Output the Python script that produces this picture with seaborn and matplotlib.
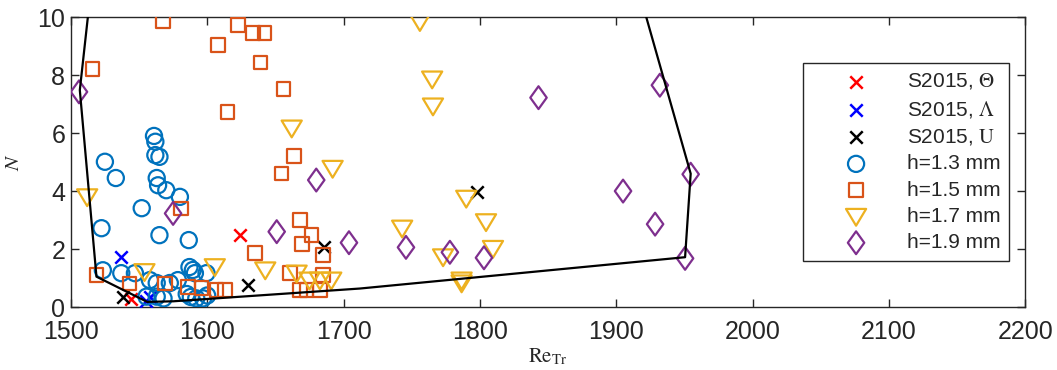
import numpy as np
import matplotlib
matplotlib.use("Agg")
import matplotlib.pyplot as plt
from matplotlib.path import Path
import seaborn as sns

# ── DATA ─────────────────────────────────────────────────────────────────────
h13_re = [1525, 1533, 1522.5, 1552, 1561, 1562, 1562, 1565, 1563, 1564, 1570, 1580,
          1565, 1586.5, 1523.5, 1537, 1547, 1558, 1563, 1572.6, 1578.5, 1587,
          1589.5, 1591, 1599.5, 1585, 1588, 1592, 1597, 1600, 1555.5, 1563, 1568]
h13_n = [5.01, 4.45, 2.72, 3.41, 5.9, 5.7, 5.24, 5.18, 4.45, 4.2, 4.03, 3.8,
         2.48, 2.31, 1.27, 1.17, 1.17, 0.93, 0.83, 0.83, 0.93, 1.38,
         1.28, 1.17, 1.17, 0.45, 0.35, 0.3, 0.3, 0.4, 0.36, 0.36, 0.3]

h15_re = [1567.5, 1516, 1608, 1622.5, 1633.6, 1642, 1639, 1656, 1615, 1663.6, 1654.6,
          1581, 1668, 1676.6, 1669.6, 1685, 1635, 1519, 1543, 1569, 1586, 1596,
          1607, 1613, 1660.7, 1685, 1668, 1673, 1682.7]
h15_n = [9.86, 8.2, 9.03, 9.72, 9.45, 9.45, 8.43, 7.52, 6.72, 5.2, 4.6,
         3.4, 3.0, 2.48, 2.17, 1.79, 1.86, 1.1, 0.82, 0.82, 0.7, 0.65,
         0.59, 0.59, 1.17, 1.1, 0.59, 0.59, 0.59]

h17_re = [1512, 1662, 1692, 1554, 1605.6, 1642.6, 1665.6, 1675, 1682.7, 1691, 1756,
          1765, 1765.6, 1790, 1804.5, 1743, 1809.6, 1773, 1786.6, 1786.6]
h17_n = [3.8, 6.17, 4.78, 1.22, 1.39, 1.28, 1.17, 0.93, 0.93, 0.93, 9.84,
         7.86, 6.93, 3.75, 2.94, 2.72, 2.02, 1.73, 0.93, 0.83]

h19_re = [1506, 1575, 1680, 1651, 1704, 1745.8, 1778, 1803, 1843, 1932, 1905,
          1954.6, 1928.5, 1950.5]
h19_n = [7.42, 3.23, 4.38, 2.6, 2.22, 2.06, 1.89, 1.7, 7.22, 7.65, 4.0,
         4.58, 2.86, 1.68]

s_theta_re = [1624, 1544.5]
s_theta_n = [2.48, 0.28]
s_lambda_re = [1537, 1555, 1558]
s_lambda_n = [1.73, 0.2, 0.35]
s_u_re = [1538, 1630, 1686, 1797.6]
s_u_n = [0.35, 0.76, 2.08, 3.97]

hull_re = [1512.5, 1506.6, 1518.8, 1556, 1575, 1712, 1950.5, 1954.6, 1922]
hull_n = [10.0, 7.48, 1.05, 0.18, 0.2, 0.64, 1.72, 4.6, 10.0]

# ── STYLE ────────────────────────────────────────────────────────────────────
sns.set_theme(style="ticks")
plt.rcParams["font.family"] = ["Liberation Sans", "DejaVu Sans"]
plt.rcParams["mathtext.fontset"] = "stix"
INK = "#262626"
BLUE, ORANGE, YELLOW, PURPLE = "#0072BD", "#D95319", "#EDB120", "#7E2F8E"

TRI = Path([(-0.6, 0.45), (0.6, 0.45), (0, -0.55), (-0.6, 0.45)], closed=True)
DIA = Path([(0, 1), (0.72, 0), (0, -1), (-0.72, 0), (0, 1)], closed=True)

fig, ax = plt.subplots(figsize=(10.57, 3.70), dpi=100)
fig.subplots_adjust(left=0.067, right=0.970, top=0.954, bottom=0.170)

groups = [
    (s_theta_re, s_theta_n, "x", 80, "#FF0000", r"S2015, $\Theta$"),
    (s_lambda_re, s_lambda_n, "x", 80, "#0000FF", r"S2015, $\Lambda$"),
    (s_u_re, s_u_n, "x", 80, "black", r"S2015, $\mathrm{U}$"),
    (h13_re, h13_n, "o", 135, BLUE, "h=1.3 mm"),
    (h15_re, h15_n, "s", 95, ORANGE, "h=1.5 mm"),
    (h17_re, h17_n, TRI, 210, YELLOW, "h=1.7 mm"),
    (h19_re, h19_n, DIA, 270, PURPLE, "h=1.9 mm"),
]
for xs, ys, mk, sz, col, lab in groups:
    if mk == "x":
        sns.scatterplot(x=xs, y=ys, marker=mk, s=sz, color=col,
                        linewidth=1.8, label=lab, ax=ax, zorder=3)
    else:
        sns.scatterplot(x=xs, y=ys, marker=mk, s=sz, color=col,
                        facecolor="none", edgecolor=col, linewidth=1.6,
                        label=lab, ax=ax, zorder=3)

sns.lineplot(x=hull_re, y=hull_n, sort=False, estimator=None,
             color="black", lw=1.6, ax=ax, zorder=4)

ax.set_xlim(1500, 2200)
ax.set_ylim(0, 10)
ax.set_xticks(np.arange(1500, 2201, 100))
ax.set_yticks(np.arange(0, 11, 2))
ax.tick_params(direction="in", length=6, width=1, top=True, right=True,
               labelsize=18, colors=INK, pad=4)
ax.tick_params(axis="x", pad=9)
for sp in ax.spines.values():
    sp.set_visible(True)
    sp.set_color(INK)
    sp.set_linewidth(1)

ax.set_xlabel(r"$\mathrm{Re}_{\mathrm{Tr}}$", fontsize=15, color=INK, labelpad=2)
ax.set_ylabel(r"$N$", fontsize=15, color=INK, labelpad=10)

leg = ax.legend(loc="upper right", bbox_to_anchor=(0.983, 0.841), fontsize=15,
                frameon=True, fancybox=False, framealpha=1, edgecolor=INK,
                borderpad=0.4, labelspacing=0.35, handletextpad=0.3,
                handlelength=4.3, borderaxespad=0)
leg.get_frame().set_linewidth(1)
for t in leg.get_texts():
    t.set_color(INK)

fig.savefig("out.png", dpi=100)
